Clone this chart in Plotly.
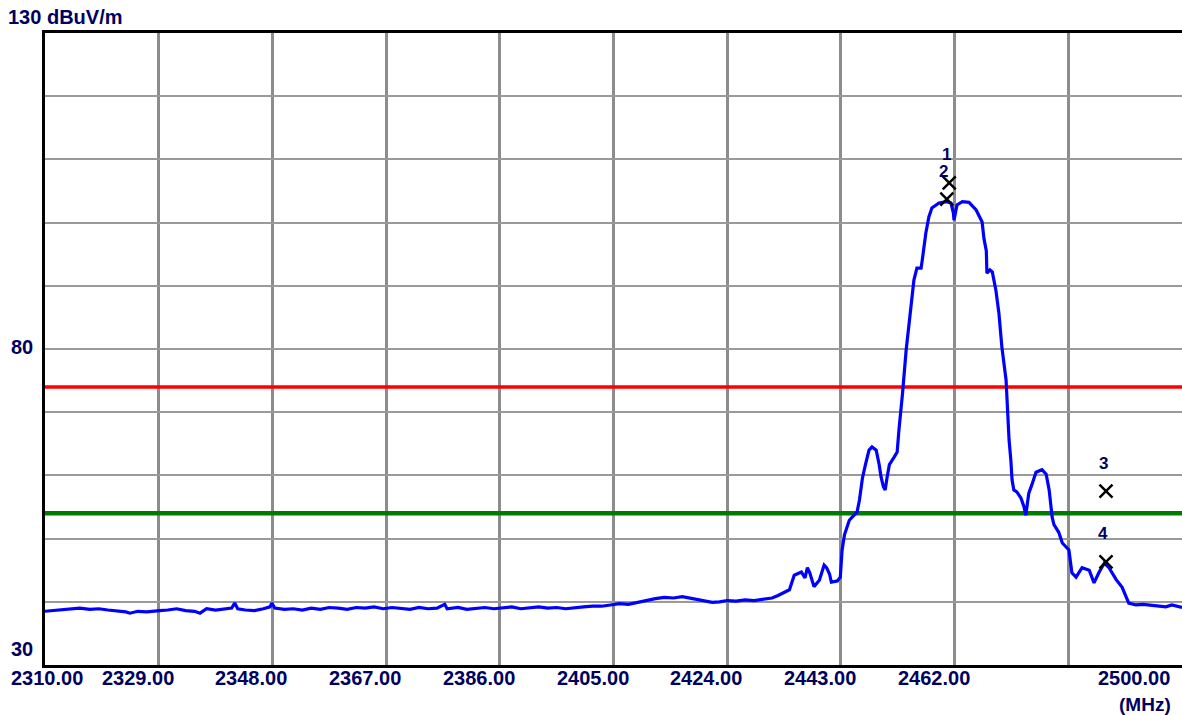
import plotly.graph_objects as go

# ---------------- data ----------------
FREQ_MHZ = [
    2310.0, 2311.5, 2313.0, 2314.5, 2315.8, 2317.5, 2319.0, 2320.5, 2322.0, 2323.5,
    2324.2, 2325.5, 2327.0, 2328.5, 2329.2, 2330.5, 2332.0, 2333.5, 2335.0, 2335.9,
    2337.0, 2338.5, 2340.0, 2341.2, 2341.7, 2342.2, 2343.5, 2345.0, 2346.5, 2347.6,
    2347.9, 2348.4, 2350.0, 2351.5, 2353.0, 2354.5, 2356.0, 2357.5, 2359.0, 2360.5,
    2362.0, 2363.5, 2365.0, 2366.5, 2368.0, 2369.5, 2371.0, 2372.5, 2374.0, 2375.5,
    2376.8, 2377.2, 2379.0, 2380.5, 2382.0, 2383.5, 2385.0, 2386.5, 2388.0, 2389.5,
    2391.0, 2392.5, 2394.0, 2395.5, 2397.0, 2398.5, 2400.0, 2401.5, 2403.0, 2404.5,
    2406.0, 2407.5, 2409.0, 2410.5, 2412.0, 2413.5, 2415.0, 2416.5, 2418.0, 2419.3,
    2420.5, 2421.5, 2422.7, 2424.0, 2425.5, 2427.0, 2428.5, 2429.4, 2430.5, 2431.5,
    2432.5, 2433.5, 2434.4, 2435.2, 2436.0, 2436.4, 2437.0, 2437.4, 2437.8, 2438.2,
    2438.5, 2439.4, 2440.2, 2440.6, 2441.1, 2441.4, 2442.4, 2442.9, 2443.2, 2443.6,
    2444.4, 2445.2, 2445.7, 2446.1, 2446.6, 2447.1, 2447.7, 2448.2, 2448.9, 2449.4,
    2449.7, 2450.1, 2450.4, 2450.7, 2451.1, 2451.9, 2452.4, 2452.7, 2452.9, 2453.1,
    2453.3, 2453.9, 2454.7, 2455.2, 2455.7, 2456.4, 2456.6, 2457.2, 2457.7, 2458.2,
    2459.4, 2460.6, 2461.4, 2461.8, 2461.9, 2462.1, 2462.4, 2463.3, 2464.4, 2465.6,
    2466.6, 2466.9, 2467.3, 2467.4, 2467.9, 2468.3, 2468.6, 2468.9, 2469.4, 2469.9,
    2470.6, 2470.8, 2471.1, 2471.4, 2471.6, 2471.9, 2472.4, 2473.1, 2473.6, 2473.9,
    2474.1, 2474.4, 2474.9, 2475.6, 2476.6, 2477.3, 2477.8, 2478.3, 2478.6, 2479.4,
    2480.0, 2480.6, 2481.1, 2481.6, 2482.3, 2483.3, 2484.5, 2485.3, 2486.1, 2487.0,
    2487.8, 2489.0, 2490.0, 2491.1, 2492.3, 2493.5, 2494.5, 2495.9, 2497.3, 2498.3,
    2499.8, 2500.0,
]
LEVEL_DBUV = [
    38.5, 38.6, 38.7, 38.8, 39.0, 38.8, 38.9, 38.7, 38.6, 38.4,
    38.2, 38.5, 38.4, 38.6, 38.6, 38.7, 38.9, 38.6, 38.5, 38.2,
    38.9, 38.7, 38.8, 39.0, 39.8, 38.9, 38.7, 38.6, 38.9, 39.2,
    39.8, 39.0, 38.8, 38.9, 38.7, 39.0, 38.8, 39.1, 39.0, 38.8,
    39.1, 39.0, 39.2, 38.9, 39.1, 39.0, 38.8, 39.1, 38.9, 39.0,
    39.6, 38.9, 39.1, 38.8, 39.0, 39.1, 38.9, 39.0, 39.2, 38.9,
    39.0, 39.2, 39.0, 39.1, 38.9, 39.1, 39.2, 39.3, 39.3, 39.5,
    39.7, 39.6, 39.9, 40.3, 40.5, 40.7, 40.6, 40.8, 40.5, 40.3,
    40.1, 39.9, 40.0, 40.2, 40.1, 40.3, 40.2, 40.3, 40.4, 40.6,
    41.0, 41.5, 41.9, 44.2, 44.6, 44.7, 43.8, 45.4, 44.6, 43.5,
    42.4, 43.4, 45.8, 45.4, 44.4, 43.1, 43.3, 43.9, 48.2, 50.6,
    52.9, 53.7, 54.2, 56.1, 59.6, 61.7, 64.0, 64.5, 64.0, 61.7,
    59.8, 58.2, 57.7, 59.6, 61.7, 62.9, 63.7, 67.2, 69.0, 70.0,
    73.0, 79.8, 86.7, 90.9, 92.8, 92.8, 94.1, 98.4, 100.9, 102.3,
    103.1, 103.3, 103.1, 101.5, 100.4, 101.5, 102.8, 103.3, 103.2, 102.0,
    100.1, 97.5, 95.5, 92.0, 92.5, 92.2, 91.0, 89.3, 85.7, 80.3,
    75.1, 70.4, 65.6, 62.4, 59.3, 57.7, 57.4, 56.4, 55.0, 53.7,
    55.5, 57.2, 58.5, 60.5, 60.9, 60.2, 57.7, 53.4, 52.2, 51.0,
    49.3, 48.7, 48.2, 44.6, 43.9, 45.4, 45.0, 43.0, 44.6, 46.1,
    45.4, 43.5, 42.3, 39.8, 39.5, 39.6, 39.5, 39.4, 39.2, 39.5,
    39.2, 39.1,
]

LIMIT_RED = 74.0
LIMIT_GREEN = 54.0

MARKER_LABELS = ["1", "2", "3", "4"]
MARKER_FREQ = [2461.1, 2460.7, 2487.3, 2487.3]
MARKER_LEVEL = [106.3, 103.7, 57.5, 46.3]

X_TICKS = [2310, 2329, 2348, 2367, 2386, 2405, 2424, 2443, 2462, 2481, 2500]
X_TICK_TEXT = ["2310.00", "2329.00", "2348.00", "2367.00", "2386.00", "2405.00",
               "2424.00", "2443.00", "2462.00", "", "2500.00"]
Y_TICKS = [30, 40, 50, 60, 70, 80, 90, 100, 110, 120, 130]

X_MIN, X_MAX = 2310, 2500
Y_MIN, Y_MAX = 30, 130

TEXT_COLOR = "#000060"
FONT = "Liberation Sans, Arial, sans-serif"

fig = go.Figure()

fig.add_trace(go.Scatter(x=[X_MIN, X_MAX], y=[LIMIT_RED, LIMIT_RED], mode="lines",
                         line=dict(color="#ff0000", width=3.5), hoverinfo="skip"))
fig.add_trace(go.Scatter(x=[X_MIN, X_MAX], y=[LIMIT_GREEN, LIMIT_GREEN], mode="lines",
                         line=dict(color="#007a00", width=4.5), hoverinfo="skip"))
fig.add_trace(go.Scatter(x=FREQ_MHZ, y=LEVEL_DBUV, mode="lines",
                         line=dict(color="#0000ff", width=3.2)))
fig.add_trace(go.Scatter(x=MARKER_FREQ, y=MARKER_LEVEL, mode="markers",
                         marker=dict(symbol="x-thin", size=13,
                                     line=dict(color="black", width=2.5))))

annotations = []
for f, lab, lev in zip(MARKER_FREQ, MARKER_LABELS, MARKER_LEVEL):
    annotations.append(dict(x=f, y=lev, xref="x", yref="y", text="<b>%s</b>" % lab,
                            showarrow=False, yanchor="middle", yshift=28, xshift=-3,
                            font=dict(family=FONT, size=17, color=TEXT_COLOR)))

n = len(X_TICKS)
for i, (tv, tt) in enumerate(zip(X_TICKS, X_TICK_TEXT)):
    if not tt:
        continue
    if i == 0:
        anchor, shift = "center", 2
    elif i == n - 1:
        anchor, shift = "right", -10
    else:
        anchor, shift = "center", -21
    annotations.append(dict(x=tv, y=0, xref="x", yref="paper", text="<b>%s</b>" % tt,
                            showarrow=False, xanchor=anchor, yanchor="top",
                            xshift=shift, yshift=0,
                            font=dict(family=FONT, size=20, color=TEXT_COLOR)))

annotations.append(dict(x=1, y=0, xref="paper", yref="paper", text="<b>(MHz)</b>",
                        showarrow=False, xanchor="right", yanchor="top",
                        xshift=-9, yshift=-27,
                        font=dict(family=FONT, size=19, color=TEXT_COLOR)))
annotations.append(dict(x=0, y=80, xref="paper", yref="y", text="<b>80</b>",
                        showarrow=False, xanchor="right", yanchor="middle",
                        xshift=-10, yshift=2,
                        font=dict(family=FONT, size=20, color=TEXT_COLOR)))
annotations.append(dict(x=0, y=30, xref="paper", yref="y", text="<b>30</b>",
                        showarrow=False, xanchor="right", yanchor="middle",
                        xshift=-10, yshift=16,
                        font=dict(family=FONT, size=20, color=TEXT_COLOR)))
annotations.append(dict(x=0, y=1, xref="paper", yref="paper", text="<b>130 dBuV/m</b>",
                        showarrow=False, xanchor="left", yanchor="middle",
                        xshift=-39, yshift=16,
                        font=dict(family=FONT, size=20, color=TEXT_COLOR)))

fig.update_layout(
    width=1182, height=715,
    margin=dict(l=45, r=0, t=33, b=50),
    paper_bgcolor="white", plot_bgcolor="white",
    showlegend=False,
    annotations=annotations,
    xaxis=dict(range=[X_MIN, X_MAX], tickvals=X_TICKS, showticklabels=False,
               showgrid=True, gridcolor="#8c8c8c", gridwidth=3,
               showline=True, linecolor="black", linewidth=3, mirror=True,
               zeroline=False, ticks=""),
    yaxis=dict(range=[Y_MIN, Y_MAX], tickvals=Y_TICKS, showticklabels=False,
               showgrid=True, gridcolor="#9a9a9a", gridwidth=2,
               showline=True, linecolor="black", linewidth=3, mirror=False,
               zeroline=False, ticks=""),
)

fig.write_html("out.html",
               config={"displayModeBar": False},
               post_script="document.body.style.margin='0';"
                           "document.body.style.overflow='hidden';")
